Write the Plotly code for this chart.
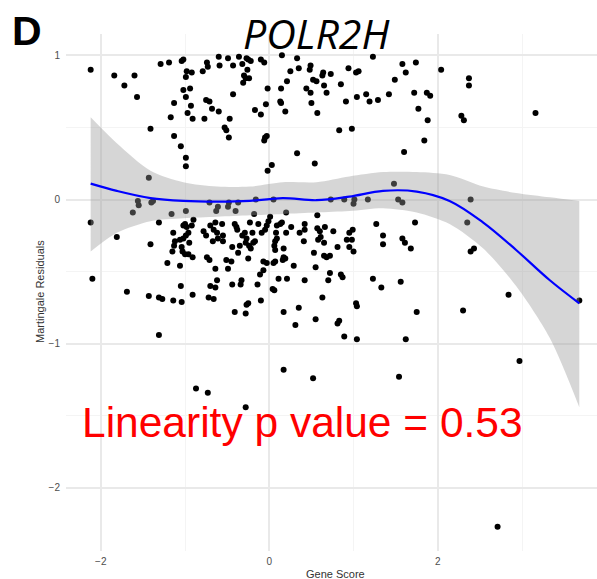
import plotly.graph_objects as go

# Scatter data: gene score (x) vs Martingale residuals (y)
gene_score = [
    -2.12, -1.84, -1.72, -1.60, -1.57, -1.41, -1.43, -1.29, -1.19, -1.17, -1.13, -1.13, -1.05, -1.04, -1.02,
    -0.99, -0.99, -1.02, -0.99, -0.99, -0.98, -0.94, -0.93, -0.97, -0.91, -0.92, -0.79, -0.77, -0.75, -0.74,
    -0.73, -0.71, -0.68, -0.60, -0.60, -0.59, -0.53, -0.51, -0.48, -0.47, -0.49, -0.43, -0.43, -0.36, -0.32,
    -0.30, -0.28, -0.26, -0.24, -0.31, -0.25, -0.22, -0.27, -0.17, -0.10, -0.10, -0.06, -0.02, -0.04, -0.05,
    -0.06, -0.03, -0.02, 0.03, 0.14, 0.13, 0.14, 0.19, 0.15, 0.21, 0.25, 0.33, 0.35, 0.33, 0.49,
    0.48, 0.52, 0.56, 0.44, 0.49, 0.50, 0.57, 0.64, 0.63, 0.65, 0.68, 0.73, 0.54, 0.85, 0.83,
    0.91, 0.94, 0.98, 1.03, 1.06, 1.04, 1.15, 1.19, 1.23, 1.29, 1.42, 1.49, 1.58, 1.62, 1.60,
    1.74, 1.72, 1.77, 1.87, 1.91, 1.88, 1.84, 2.04, 2.28, 2.31, 2.37, 2.37, 3.16, 1.48,
    -2.12, -2.10, -1.81, -1.69, -1.62, -1.56, -1.55, -1.41, -1.40, -1.38, -1.43, -1.31, -1.31, -1.27, -1.31,
    -1.21, -1.16, -1.14, -1.15, -1.14, -1.12, -1.13, -1.06, -1.05, -1.04, -0.99, -1.02, -1.00, -0.98, -0.96,
    -0.99, -1.02, -1.06, -1.04, -1.03, -1.00, -0.96, -0.91, -0.95, -0.90, -0.92, -0.91, -0.78, -0.75, -0.74,
    -0.71, -0.72, -0.66, -0.70, -0.64, -0.62, -0.71, -0.70, -0.64, -0.66, -0.62, -0.61, -0.67, -0.64, -0.63,
    -0.61, -0.56, -0.55, -0.55, -0.51, -0.49, -0.45, -0.49, -0.48, -0.44, -0.41, -0.39, -0.38, -0.44, -0.41,
    -0.40, -0.37, -0.35, -0.37, -0.33, -0.34, -0.32, -0.29, -0.27, -0.28, -0.28, -0.27, -0.25, -0.25, -0.23,
    -0.24, -0.22, -0.19, -0.17, -0.20, -0.18, -0.16, -0.14, -0.13, -0.11, -0.10, -0.09, -0.07, -0.07, -0.03,
    -0.05, -0.03, -0.01, 0.01, 0.05, 0.04, 0.06, 0.05, 0.07, 0.07, 0.09, 0.06, 0.07, 0.08, 0.09,
    0.13, 0.15, 0.11, 0.16, 0.17, 0.19, 0.17, 0.17, 0.17, 0.20, 0.20, 0.21, 0.26, 0.29, 0.31,
    0.35, 0.42, 0.42, 0.41, 0.36, 0.42, 0.53, 0.55, 0.52, 0.55, 0.57, 0.57, 0.60, 0.58, 0.61,
    0.65, 0.66, 0.65, 0.68, 0.72, 0.70, 0.72, 0.63, 0.73, 0.76, 0.81, 0.81, 0.83, 0.85, 0.87,
    0.89, 0.89, 0.92, 0.95, 0.98, 1.00, 0.95, 0.99, 1.01, 1.00, 1.03, 1.04, 1.04, 1.17, 1.23,
    1.27, 1.33, 1.35, 1.35, 1.53, 1.58, 1.56, 1.54, 1.58, 1.61, 1.68, 1.62, 1.73, 1.75, 2.30,
    2.35, 2.39, 2.39, 2.43, 2.84, 2.97, 3.68, -0.87, -0.73, -0.28, 2.71,
]
residual = [
    0.90, 0.86, 0.79, 0.86, 0.71, 0.49, 0.15, 0.94, 0.95, 0.57, 0.67, 0.44, 0.37, 0.96, 0.97,
    0.29, 0.23, 0.76, 0.71, 0.85, 0.89, 0.77, 0.65, 0.60, 0.56, 0.88, 0.89, 0.56, 0.69, 0.95,
    0.92, 0.68, 0.63, 0.61, 0.99, 0.93, 0.50, 0.48, 0.43, 0.56, 0.98, 0.93, 0.73, 0.99, 0.94,
    0.86, 0.84, 0.90, 0.84, 0.81, 0.97, 0.96, 0.98, 0.62, 0.59, 0.97, 0.95, 0.77, 0.66, 0.43,
    0.41, 0.44, 0.20, 0.24, 0.77, 0.68, 0.67, 0.61, 1.00, 0.82, 0.89, 0.98, 0.91, 0.32, 0.93,
    0.90, 0.83, 0.82, 0.77, 0.74, 0.67, 0.60, 0.88, 0.86, 0.79, 0.74, 0.87, 0.25, 0.80, 0.48,
    0.68, 0.91, 0.49, 0.88, 0.89, 0.71, 0.73, 0.68, 0.99, 0.69, 0.73, 0.83, 0.94, 0.88, 0.33,
    0.95, 0.74, 0.63, 0.74, 0.72, 0.55, 0.41, 0.90, 0.58, 0.55, 0.84, 0.79, 0.60, 0.11,
    -0.16, -0.55, -0.26, -0.64, -0.09, -0.01, -0.04, -0.31, -0.02, -0.01, -0.67, -0.16, -0.68, -0.69, -0.94,
    -0.44, -0.10, -0.23, -0.36, -0.70, -0.29, -0.32, -0.46, -0.60, -0.71, -0.08, -0.18, -0.17, -0.19, -0.23,
    -0.25, -0.27, -0.28, -0.33, -0.36, -0.38, -0.38, -0.40, -0.30, -0.14, -0.18, -0.66, -0.22, -0.25, -0.40,
    -0.42, -0.68, -0.69, -0.60, -0.61, -0.56, -0.02, -0.18, -0.16, -0.21, -0.23, -0.27, -0.29, -0.48, -0.08,
    -0.05, -0.17, -0.29, -0.25, -0.42, -0.48, -0.43, -0.05, -0.02, -0.33, -0.17, -0.19, -0.21, -0.59, -0.78,
    -0.08, -0.02, -0.32, -0.37, -0.56, -0.59, -0.25, -0.23, -0.27, -0.30, -0.79, -0.73, -0.72, -0.41, -0.16,
    -0.32, -0.34, -0.30, -0.29, -0.23, -0.10, 0.00, -0.59, -0.17, -0.52, -0.70, -0.23, -0.49, -0.43, -0.44,
    -0.21, -0.18, -0.15, -0.12, 0.00, -0.62, -0.63, -0.44, -0.43, -0.29, -0.27, -0.32, -0.35, -0.23, -0.18,
    -0.17, -0.16, -0.55, -0.42, -0.40, -0.41, -0.34, -0.78, -1.18, -0.09, -0.23, -0.55, -0.19, -0.46, -0.87,
    -0.75, -0.17, -0.21, -0.29, -0.23, -0.56, -0.37, -0.47, -1.24, -0.83, -0.11, -0.20, -0.22, -0.28, -0.26,
    -0.30, -0.19, -0.39, -0.40, -0.39, -0.56, -0.51, -0.68, 0.00, -0.22, -0.33, -0.86, -0.84, -0.52, -0.54,
    -0.95, 0.00, -0.28, -0.33, -0.28, -0.36, -0.23, -0.21, 0.00, -0.03, -0.72, -0.74, -0.97, 0.00, -0.55,
    -0.17, -0.61, -0.25, -0.31, 0.00, -0.02, -0.57, -1.23, -0.27, -0.30, -0.34, -0.97, -0.16, -0.78, -0.77,
    -0.16, 0.00, -0.36, -0.34, -0.66, -1.12, -0.70, -1.31, -1.34, -1.44, -2.27,
]

# Smoothed fit with confidence band
smooth_x = [-2.12, -1.81, -1.41, -1.02, -0.62, -0.23, 0.16, 0.56, 0.95, 1.35, 1.75, 2.14, 2.54, 2.93, 3.33, 3.68]
smooth_fit = [0.11, 0.06, 0.01, -0.01, -0.015, -0.01, 0.01, -0.005, 0.02, 0.06, 0.055, -0.01, -0.16, -0.35, -0.56, -0.72]
smooth_upper = [0.57, 0.39, 0.20, 0.12, 0.09, 0.09, 0.12, 0.12, 0.16, 0.19, 0.19, 0.17, 0.09, 0.045, 0.015, -0.01]
smooth_lower = [-0.36, -0.23, -0.15, -0.13, -0.12, -0.11, -0.10, -0.09, -0.08, -0.06, -0.09, -0.17, -0.34, -0.60, -0.96, -1.44]

x_ticks = [-2, 0, 2]
y_ticks = [-2, -1, 0, 1]

W, H = 597, 579
ML, MR, MT, MB = 66, 0, 34, 28
PW, PH = W - ML - MR, H - MT - MB


def px(xp):
    return (xp - ML) / PW


def py(yp):
    return (H - MB - yp) / PH


fig = go.Figure()

fig.add_trace(go.Scatter(
    x=gene_score, y=residual, mode="markers",
    marker=dict(color="black", size=6, line=dict(width=0)),
    showlegend=False, hoverinfo="skip",
))

# confidence band: lower edge, then upper edge filled to it
fig.add_trace(go.Scatter(
    x=smooth_x, y=smooth_lower, mode="lines",
    line=dict(width=0, shape="spline", smoothing=0.8),
    showlegend=False, hoverinfo="skip",
))
fig.add_trace(go.Scatter(
    x=smooth_x, y=smooth_upper, mode="lines",
    fill="tonexty", fillcolor="rgba(153,153,153,0.4)",
    line=dict(width=0, shape="spline", smoothing=0.8),
    showlegend=False, hoverinfo="skip",
))

fig.add_trace(go.Scatter(
    x=smooth_x, y=smooth_fit, mode="lines",
    line=dict(color="#0000FF", width=2.2, shape="spline", smoothing=1.0),
    showlegend=False, hoverinfo="skip",
))

axis_font = dict(family="Liberation Sans, Arial, sans-serif", size=10, color="#4d4d4d")

fig.update_layout(
    width=W, height=H,
    margin=dict(l=ML, r=MR, t=MT, b=MB, pad=0),
    paper_bgcolor="white", plot_bgcolor="white",
    xaxis=dict(
        range=[-2.413, 3.890], tickvals=x_ticks, ticktext=["\u22122", "0", "2"],
        showgrid=True, gridcolor="#e9e9e9", gridwidth=1.5,
        zeroline=False, showline=False, ticks="", tickfont=axis_font,
        minor=dict(dtick=1, tick0=1, showgrid=True, gridcolor="#f4f4f4", gridwidth=0.8),
        ticklabelstandoff=3,
    ),
    yaxis=dict(
        range=[-2.4376, 1.1477], tickvals=y_ticks, ticktext=["\u22122", "\u22121", "0", "1"],
        showgrid=True, gridcolor="#e9e9e9", gridwidth=1.5,
        zeroline=False, showline=False, ticks="", tickfont=axis_font,
        minor=dict(dtick=0.5, tick0=0.5, showgrid=True, gridcolor="#f4f4f4", gridwidth=0.8),
        ticklabelstandoff=5,
    ),
    annotations=[
        dict(text="Gene Score", xref="paper", yref="paper", x=px(335), y=py(574),
             xanchor="center", yanchor="middle", showarrow=False,
             font=dict(family="Liberation Sans, Arial, sans-serif", size=11, color="#333333")),
        dict(text="Martingale Residuals", xref="paper", yref="paper", x=px(40), y=py(292),
             xanchor="center", yanchor="middle", showarrow=False, textangle=-90,
             font=dict(family="Liberation Sans, Arial, sans-serif", size=11, color="#333333")),
        dict(text="<i>POLR2H</i>", xref="paper", yref="paper", x=px(316), y=py(33),
             xanchor="center", yanchor="middle", showarrow=False,
             font=dict(family="Open Sans, sans-serif", size=41, color="black")),
        dict(text="<b>D</b>", xref="paper", yref="paper", x=px(27), y=py(31),
             xanchor="center", yanchor="middle", showarrow=False,
             font=dict(family="Liberation Sans, Arial, sans-serif", size=41, color="black")),
        dict(text="Linearity p value = 0.53", xref="paper", yref="paper", x=px(302), y=py(422),
             xanchor="center", yanchor="middle", showarrow=False,
             font=dict(family="Liberation Sans, Arial, sans-serif", size=42.5, color="#FF0000")),
    ],
)

fig.write_html("out.html")
